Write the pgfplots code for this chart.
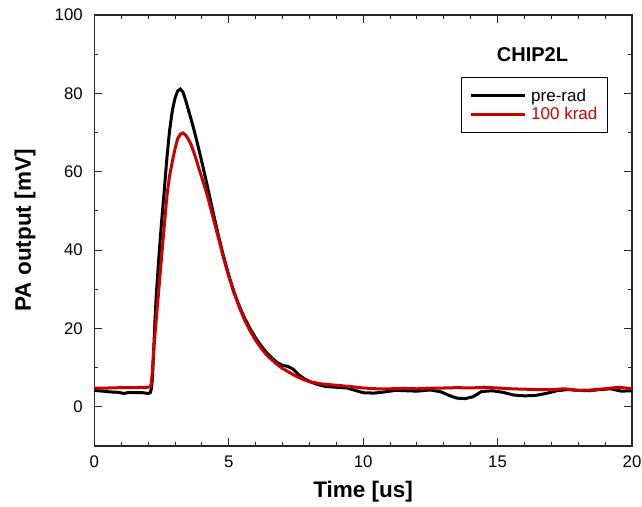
\documentclass[border=0pt]{standalone}
\usepackage{pgfplots}
\pgfplotsset{compat=1.18}
\usetikzlibrary{calc}
\usepackage{fontspec}
\setmainfont{Liberation Sans}
\definecolor{myred}{RGB}{204,0,0}
\begin{document}
\begin{tikzpicture}
\useasboundingbox (-94.3bp,-61bp) rectangle (547.7bp,446bp);
\begin{axis}[
  at={(0,0)}, anchor=south west,
  scale only axis,
  width=537.7bp, height=431bp,
  xmin=0, xmax=20, ymin=-10, ymax=100,
  xtick={0,5,...,20}, ytick={0,20,...,100},
  minor x tick num=4, minor y tick num=1,
  major tick length=8bp, minor tick length=4bp,
  tick align=inside,
  xtick pos=both, ytick pos=both,
  axis line style={line width=1.1bp, black!85},
  every tick/.style={line width=0.9bp, black!85},
  /pgf/number format/assume math mode=true,
  ticklabel style={font=\fontsize{16.8bp}{19bp}\selectfont},
  xticklabel style={yshift=-6bp},
  yticklabel style={xshift=-8bp},
  xlabel={\textbf{Time [us]}},
  ylabel={\textbf{PA output [mV]}},
  label style={font=\fontsize{22.5bp}{26bp}\selectfont},
  xlabel style={at={(rel axis cs:0.5,0)}, anchor=center, yshift=-46bp},
  ylabel style={at={($(rel axis cs:0,0.5)+(-69.3bp,0)$)}, anchor=center},
  legend style={at={(axis cs:19.1,84.1)}, anchor=north east, draw=black, line width=0.9bp,
    font=\fontsize{17bp}{19bp}\selectfont, inner xsep=8bp, inner ysep=9bp, row sep=1bp, column sep=3bp},
  legend cell align=left,
  legend image code/.code={\draw[#1, line width=3bp] (0bp,0bp) -- (54bp,0bp);},
]
\addplot[black, line width=3bp] coordinates {
(0,4.2)(0.3,4.0)(0.6,3.8)(0.9,3.7)(1.1,3.4)(1.3,3.7)(1.5,3.6)(1.8,3.6)(2.0,3.4)(2.08,3.6)(2.12,4.5)(2.16,7)(2.2,13)(2.25,21)(2.3,28)(2.4,38)(2.5,47)(2.6,55)(2.7,63.5)(2.8,70.5)(2.9,75.5)(3.0,78.7)(3.1,80.6)(3.2,81.1)(3.3,80.3)(3.4,78.2)(3.5,75.8)(3.6,73.4)(3.7,70.9)(3.8,68.2)(3.9,65.4)(4.0,62.5)(4.2,56.5)(4.4,50.2)(4.6,44.2)(4.8,38.6)(5.0,33.6)(5.2,29.2)(5.4,25.6)(5.6,22.5)(5.8,19.9)(6.0,17.6)(6.2,15.6)(6.4,13.9)(6.6,12.5)(6.8,11.3)(7.0,10.6)(7.2,10.3)(7.4,9.6)(7.6,8.2)(7.8,7.2)(8.0,6.5)(8.3,5.7)(8.6,5.2)(9.0,5.0)(9.4,4.8)(9.7,4.2)(10.0,3.6)(10.4,3.5)(10.8,3.8)(11.2,4.2)(11.6,4.1)(12.0,4.0)(12.5,4.3)(12.9,3.8)(13.2,2.9)(13.5,2.2)(13.8,2.1)(14.1,2.6)(14.4,3.9)(14.8,4.1)(15.2,3.7)(15.6,3.0)(16.0,2.8)(16.4,2.9)(16.8,3.4)(17.2,4.1)(17.6,4.4)(18.0,4.2)(18.4,4.1)(18.8,4.4)(19.2,4.6)(19.6,4.0)(20,4.1)
};
\addlegendentry{pre-rad}
\addplot[myred, line width=3bp] coordinates {
(0,4.8)(0.5,4.8)(1.0,4.9)(1.5,4.9)(2.0,5.0)(2.08,5.1)(2.12,6)(2.16,9)(2.2,13.5)(2.3,22)(2.4,30)(2.5,38)(2.6,46)(2.7,53.8)(2.8,59)(2.9,62.5)(3.0,65.8)(3.1,68.4)(3.2,69.6)(3.3,69.9)(3.4,69.3)(3.5,68.3)(3.6,66.9)(3.7,65.0)(3.8,62.9)(3.9,60.6)(4.0,58.5)(4.2,54)(4.4,48.8)(4.6,43.5)(4.8,38.2)(5.0,33.3)(5.2,29)(5.4,25.3)(5.6,22)(5.8,19.3)(6.0,17)(6.2,15)(6.4,13.3)(6.6,12)(6.8,10.8)(7.0,9.8)(7.2,9)(7.4,8.2)(7.6,7.5)(7.8,6.9)(8.0,6.4)(8.5,5.8)(9.0,5.5)(9.5,5.2)(10,4.8)(10.5,4.6)(11,4.6)(11.5,4.7)(12,4.6)(12.5,4.8)(13,4.8)(13.5,4.9)(14,4.8)(14.5,5.0)(15,4.8)(15.5,4.6)(16,4.5)(16.5,4.4)(17,4.4)(17.5,4.6)(18,4.2)(18.5,4.3)(19,4.6)(19.5,5.0)(20,4.6)
};
\addlegendentry{\textcolor{myred}{100 krad}}
\node[font=\bfseries\fontsize{20bp}{24bp}\selectfont, anchor=center] at (axis cs:16.3,90) {CHIP2L};
\end{axis}
\end{tikzpicture}
\end{document}
